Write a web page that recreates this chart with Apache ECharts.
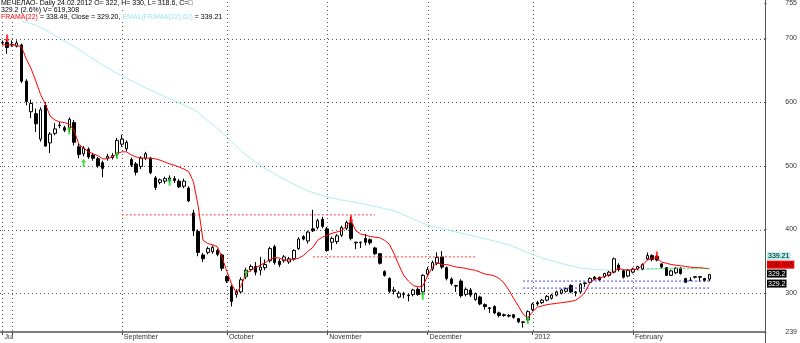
<!DOCTYPE html>
<html><head><meta charset="utf-8">
<script src="https://cdn.jsdelivr.net/npm/echarts@6/dist/echarts.min.js"></script>
<style>html,body{margin:0;padding:0;background:#fff}#c{width:800px;height:343px}</style>
</head><body><div id="c"></div>
<script>
const dates = ['2011-07-28','2011-07-29',
'2011-08-01','2011-08-02','2011-08-03','2011-08-04','2011-08-05','2011-08-08','2011-08-09','2011-08-10','2011-08-11','2011-08-12','2011-08-15','2011-08-16','2011-08-17','2011-08-18','2011-08-19','2011-08-22','2011-08-23','2011-08-24','2011-08-25','2011-08-26','2011-08-29','2011-08-30','2011-08-31',
'2011-09-01','2011-09-02','2011-09-05','2011-09-06','2011-09-07','2011-09-08','2011-09-09','2011-09-12','2011-09-13','2011-09-14','2011-09-15','2011-09-16','2011-09-19','2011-09-20','2011-09-21','2011-09-22','2011-09-23','2011-09-26','2011-09-27','2011-09-28','2011-09-29','2011-09-30',
'2011-10-03','2011-10-04','2011-10-05','2011-10-06','2011-10-07','2011-10-10','2011-10-11','2011-10-12','2011-10-13','2011-10-14','2011-10-17','2011-10-18','2011-10-19','2011-10-20','2011-10-21','2011-10-24','2011-10-25','2011-10-26','2011-10-27','2011-10-28','2011-10-31',
'2011-11-01','2011-11-02','2011-11-03','2011-11-07','2011-11-08','2011-11-09','2011-11-10','2011-11-11','2011-11-14','2011-11-15','2011-11-16','2011-11-17','2011-11-18','2011-11-21','2011-11-22','2011-11-23','2011-11-24','2011-11-25','2011-11-28','2011-11-29','2011-11-30',
'2011-12-01','2011-12-02','2011-12-05','2011-12-06','2011-12-07','2011-12-08','2011-12-09','2011-12-12','2011-12-13','2011-12-14','2011-12-15','2011-12-16','2011-12-19','2011-12-20','2011-12-21','2011-12-22','2011-12-23','2011-12-26','2011-12-27','2011-12-28','2011-12-29','2011-12-30',
'2012-01-03','2012-01-04','2012-01-05','2012-01-06','2012-01-09','2012-01-10','2012-01-11','2012-01-12','2012-01-13','2012-01-16','2012-01-17','2012-01-18','2012-01-19','2012-01-20','2012-01-23','2012-01-24','2012-01-25','2012-01-26','2012-01-27','2012-01-30','2012-01-31',
'2012-02-01','2012-02-02','2012-02-03','2012-02-06','2012-02-07','2012-02-08','2012-02-09','2012-02-10','2012-02-13','2012-02-14','2012-02-15','2012-02-16','2012-02-17','2012-02-20','2012-02-21','2012-02-22','2012-02-24'];

const opens = [693,694,690,688,690,633,585,582,542,595,
536,551,563,560,560,568,530,519,526,517,
511,505,512,513,519,534,527,510,503,499,
512,512,481,474,476,478,480,476,468,465,
426,397,360,364,365,367,360,326,310,298,
302,326,337,342,336,340,351,373,350,351,
349,354,370,389,382,401,403,416,401,380,
381,391,402,410,379,379,386,384,371,362,
334,323,303,294,298,296,298,306,302,330,
338,347,357,340,322,311,319,298,305,290,
294,282,277,279,269,266,265,266,260,254,
258,274,285,285,289,292,297,300,303,312,
301,302,315,317,325,325,326,328,333,344,
335,327,333,338,338,354,359,358,346,340,
328,332,339,323,320,325,325,323,322];
const closes = [694,686,691,693,633,601,598,566,588,531,
550,558,564,556,573,537,518,528,514,512,
500,496,515,516,540,542,537,501,490,512,
519,489,466,478,480,481,477,467,476,445,
398,364,354,370,372,361,339,319,287,302,
321,336,342,333,341,345,370,348,345,357,
354,367,385,385,396,398,414,405,367,386,
390,403,411,386,380,380,380,379,362,347,
328,303,305,300,299,297,305,298,328,337,
348,356,341,323,315,312,296,306,297,299,
283,279,276,269,265,265,264,262,255,255,
271,283,283,289,295,297,302,305,307,302,
302,314,316,323,322,321,331,333,354,337,
325,336,338,342,345,359,353,352,341,328,
335,339,331,317,320.5,326,326,320,329.2];
const lows = [690,676,687,686,630,595,575,553,538,530,
520,548,559,553,553,532,512,515,511,508,
497,482,508,510,513,530,523,498,485,495,
509,487,462,471,472,474,473,465,465,443,
390,358,349,361,362,358,335,316,279,293,
300,322,334,328,328,336,348,345,341,348,
346,351,368,383,378,396,400,402,365,368,
377,388,399,383,369,371,375,376,360,345,
326,300,298,292,292,287,295,296,298,326,
335,344,338,320,312,302,293,295,294,288,
281,274,269,267,262,263,262,260,253,246,
255,272,280,283,287,290,295,298,301,300,
295,300,310,315,320,319,324,326,331,334,
323,325,331,336,336,352,350,350,339,327,
327,330,329,316,320,323,318,318,318.6];
const highs = [697,698,697,697,692,636,604,590,592,600,
553,567,569,563,576,572,535,531,529,520,
514,508,519,520,544,549,540,513,506,515,
522,514,484,480,483,485,484,479,480,468,
431,400,363,373,375,370,362,328,313,306,
325,340,345,349,357,353,373,376,354,360,
357,369,388,391,398,431,417,420,404,389,
393,406,414,420,381,381,393,386,373,363,
336,325,310,303,302,299,307,309,330,341,
351,364,366,342,325,313,322,309,308,301,
296,284,278,281,271,268,267,267,261,256,
273,285,288,291,297,299,304,307,309,314,
303,316,317,325,327,326,332,335,356,347,
337,338,340,343,347,364,361,360,347,341,
337,341,341,324,325,326,326,324,330];
const frama = [690,690,690,689,687,668,653,633,612,597,
578,572,569,568,565,556,534,528,522,519,
516,511,511,514,519,522,522,517,514,512,
512,512,511,509,506,503,501,498,495,491,
475,436,383,378,376,373,356,334,314,300,
312,331,336,340,344,348,353,356,355,352,
352,353,355,359,366,372,383,388,391,394,
396,398,405,414,398,393,391,389,388,387,
383,377,362,344,328,319,312,310,311,327,
341,348,345,345,343,341,340,339,337,336,
333,330,329,327,323,316,305,292,280,267,
261,271,278,280,282,283,284,285,286,287,
289,294,302,317,322,324,326,329,334,339,
337,336,337,338,344,352,355,355,349,347,
345,344,343,342,341,340,340,339,338.49];
const ema = [733,731.6,730.3,729.0,727.7,725.8,723.5,720.6,717.2,713.4,
709.1,704.7,700.4,696.2,692.0,687.7,682.8,677.9,673.0,668.1,
663.3,658.4,653.7,649.3,645.2,641.3,637.5,633.6,629.8,626.1,
622.5,619.0,615.5,612.1,608.8,605.4,602.1,598.8,595.5,592.2,
588.5,583.6,577.3,570.9,564.7,558.7,552.2,545.3,537.9,530.4,
523.4,517.3,511.6,506.1,501.0,496.1,491.6,487.3,483.1,478.9,
474.9,471.0,467.3,463.9,460.8,458.0,455.6,453.4,451.5,449.6,
447.9,446.3,445.0,444.0,442.6,441.0,439.4,437.8,436.3,434.7,
433.0,431.3,429.1,426.4,423.2,419.9,416.5,413.1,409.9,407.2,
405.1,403.3,401.5,399.7,397.9,396.1,394.3,392.6,390.8,389.1,
387.3,385.5,383.7,381.9,380.0,378.0,375.7,373.0,370.1,366.8,
363.4,360.5,357.9,355.4,353.1,350.9,348.7,346.7,344.8,343.0,
341.2,339.7,338.5,337.9,337.4,336.9,336.6,336.4,336.3,336.4,
336.4,336.4,336.4,336.5,336.7,337.2,337.8,338.3,338.6,338.9,
339.1,339.2,339.3,339.4,339.4,339.4,339.3,339.3,339.21];

const monthStarts = [0,2,25,47,68,89,111,132];
const monthLabels = ['Jul','','September','October','November','December','2012','February'];
const yTicks = [239,300,400,500,600,700,755];
const gridLevels = [300,400,500,600,700];
const buySignals = [[14,556],[17,505],[24,517],[35,475],[51,331],[88,296],[110,258]];
const sellSignals = [[1,700],[73,416],[137,359]];
const redLevels = [[25,78,423],[65,99,357]];
const blueLevels = [[109,148,319],[109,148,308]];
const greenLevels = [[135,148,338.5]];
const priceTags = [
  {v:339.21, text:'339.21', bg:'#b4f0f0', fg:'#000', dy:-12},
  {v:338.495, text:'338.495', bg:'#ff0000', fg:'#400', dy:-4},
  {v:329.2, text:'329.2', bg:'#000', fg:'#fff', dy:-1},
  {v:329.2, text:'329.2', bg:'#000', fg:'#fff', dy:9}
];

const FONT = '"Liberation Sans", Arial, sans-serif';
const padCats = Array.from({length:11}, (_, k) => 'pad' + k);
const cats = dates.concat(padCats);
const ohlc = dates.map((d, i) => [opens[i], closes[i], lows[i], highs[i]]);
const arrowUp = 'path://M5,0 L10,5 L7,5 L7,11 L3,11 L3,5 L0,5 Z';

function levelSeries(list, color) {
  return list.map(l => ({
    type:'line', data:[[l[0], l[2]], [l[1], l[2]]], symbol:'none', silent:true, z:4,
    lineStyle:{color:color, type:[2,2], width:1}
  }));
}

const chart = echarts.init(document.getElementById('c'));
const baseText = {fontSize:7, fontFamily:FONT, color:'#000', fontWeight:'normal'};
chart.setOption({
  animation:false,
  backgroundColor:'#fff',
  title:[
    {text:'МЕЧЕЛАО- Daily 24.02.2012 O= 322, H= 330, L= 318.6, C=□', left:1, top:0, padding:0, backgroundColor:'#fff', textStyle:baseText},
    {text:'329.2 (2.6%) V= 619,308', left:1, top:7, padding:0, backgroundColor:'#fff', textStyle:baseText},
    {text:'{r|FRAMA(22)} = 338.49, Close = 329.20, {c|EMA1(FRAMA(22),62)} = 339.21', left:1, top:14, padding:0, backgroundColor:'#fff',
      textStyle:Object.assign({}, baseText, {rich:{r:{color:'#ff0000', fontSize:7, fontFamily:FONT}, c:{color:'#9fe6e6', fontSize:7, fontFamily:FONT}}})}
  ],
  grid:{left:-1.5, right:34, top:1.8, bottom:11, containLabel:false},
  xAxis:{
    type:'category', data:cats, boundaryGap:true,
    axisLine:{show:true, lineStyle:{color:'#808080', width:2}},
    axisTick:{show:true, alignWithLabel:true, length:3, interval:(i) => monthStarts.includes(i), lineStyle:{color:'#444'}},
    axisLabel:{show:true, interval:(i) => { const k = monthStarts.indexOf(i); return k >= 0 && monthLabels[k] !== ''; },
      formatter:(v, i) => { const k = monthStarts.indexOf(i); return k >= 0 ? monthLabels[k] : ''; },
      align:'left', margin:2, padding:[0,0,0,2], fontSize:7, fontFamily:FONT, color:'#333'},
    splitLine:{show:false}
  },
  yAxis:{
    type:'value', position:'right', min:239, max:755, scale:true,
    axisLine:{show:false},
    axisTick:{show:true, length:2, customValues:yTicks, lineStyle:{color:'#444'}},
    axisLabel:{show:true, customValues:yTicks, margin:21, fontSize:7, fontFamily:FONT, color:'#333'},
    splitLine:{show:false}
  },
  series:[
    {type:'line', name:'EMA', data:ema, symbol:'none', z:2, lineStyle:{color:'#aeeeee', width:1}},
    {type:'candlestick', name:'price', data:ohlc, barWidth:3, z:3,
      itemStyle:{color:'#ffffff', color0:'#000000', borderColor:'#000000', borderColor0:'#000000', borderWidth:1}},
    {type:'line', name:'FRAMA', data:frama, symbol:'none', z:4, lineStyle:{color:'#ff0000', width:1}},
    ...levelSeries(redLevels, '#ff3c3c'),
    ...levelSeries(blueLevels, '#3c3cff'),
    ...levelSeries(greenLevels, '#50d850'),
    {type:'scatter', name:'buy', data:buySignals, symbol:arrowUp, symbolSize:[5,8], z:5, itemStyle:{color:'#22cc22'}},
    {type:'scatter', name:'sell', data:sellSignals, symbol:arrowUp, symbolSize:[5,8], symbolRotate:180, z:5, itemStyle:{color:'#ff0000'}}
  ]
});

const gridRight = 766;
const gfx = [];
gridLevels.forEach(v => {
  const y = Math.round(chart.convertToPixel({yAxisIndex:0}, v)) + 0.5;
  gfx.push({type:'line', z:1, silent:true, shape:{x1:0, y1:y, x2:gridRight - 1, y2:y}, style:{stroke:'#555555', lineWidth:1, lineDash:[1,3]}});
});
monthStarts.forEach(i => {
  const x = Math.round(chart.convertToPixel({xAxisIndex:0}, i)) + 0.5;
  gfx.push({type:'line', z:1, silent:true, shape:{x1:x, y1:2, x2:x, y2:331}, style:{stroke:'#555555', lineWidth:1, lineDash:[1,3]}});
});
priceTags.forEach(t => gfx.push({
  type:'text', x:gridRight + 1, y:chart.convertToPixel({yAxisIndex:0}, t.v) + t.dy, z:20,
  style:{text:t.text, fill:t.fg, backgroundColor:t.bg, padding:[1,1,0,1], verticalAlign:'middle', align:'left',
    font:'7px ' + FONT}
}));
gfx.push({type:'line', z:19, shape:{x1:gridRight - 0.5, y1:0, x2:gridRight - 0.5, y2:343}, style:{stroke:'#555', lineWidth:1}});
chart.setOption({graphic:gfx});
</script>
</body></html>
